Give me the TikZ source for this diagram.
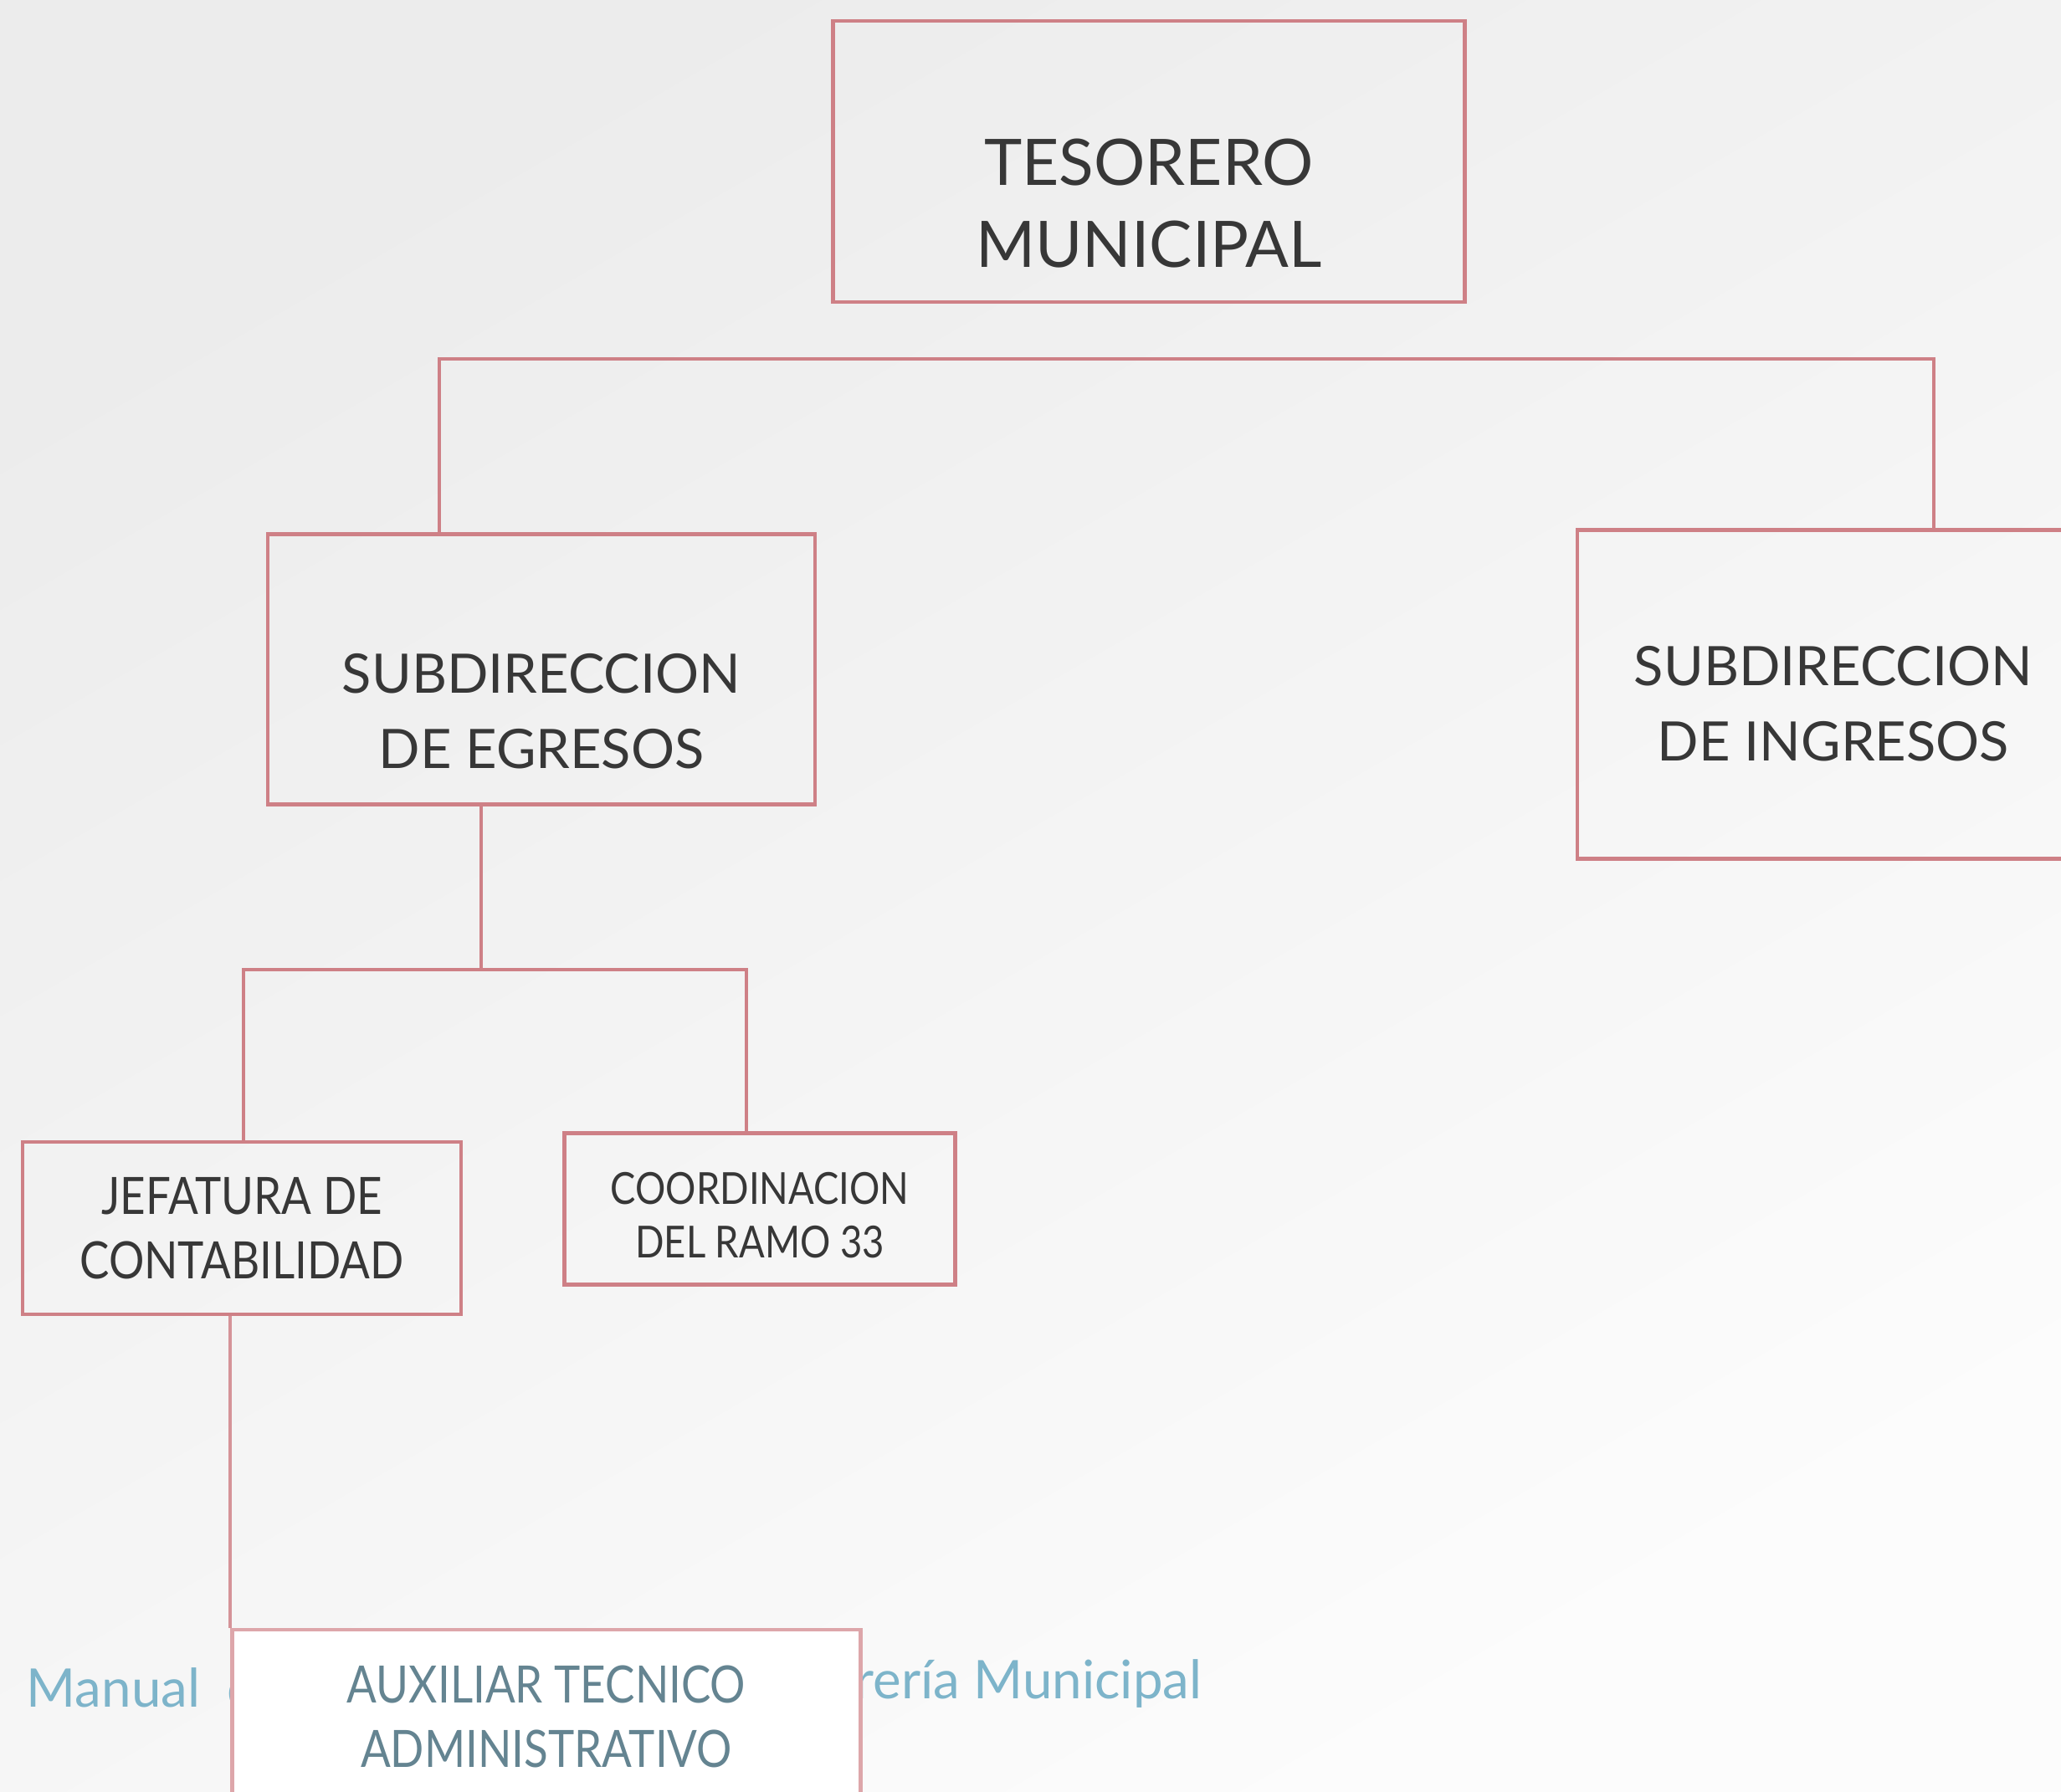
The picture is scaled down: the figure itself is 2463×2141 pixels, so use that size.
\documentclass[tikz,border=0pt]{standalone}
\usepackage{fontspec}
\setmainfont{Lato}
\newfontfamily\narrowfont[FakeStretch=0.86]{Lato}
\begin{document}
\begin{tikzpicture}[x=0.01cm,y=-0.01cm,
  boxstyle/.style={draw=boxred, line width=1.3pt, fill=none, inner sep=0pt},
  txtstyle/.style={inner sep=0pt, align=center, text=txtgray},
  linkstyle/.style={draw=boxred, line width=1.3pt},
  footstyle/.style={text=footblue, inner sep=0pt, anchor=base west, font=\fontsize{18.1}{20}\selectfont}]
\definecolor{boxred}{RGB}{206,128,134}
\definecolor{txtgray}{RGB}{55,55,55}
\definecolor{footblue}{RGB}{125,180,202}
\definecolor{auxtxt}{RGB}{100,132,145}
\definecolor{bgtop}{RGB}{236,236,236}
\definecolor{bgbot}{RGB}{252,252,252}
\clip (0,0) rectangle (2463,2141);
\shade[shading=axis, top color=bgtop, bottom color=bgbot, shading angle=30] (0,0) rectangle (2463,2141);

% boxes
\node[boxstyle, minimum width=7.55cm, minimum height=3.36cm] (tes) at (1373,193) {};
\node[boxstyle, minimum width=6.54cm, minimum height=3.23cm] (egr) at (647,800) {};
\node[boxstyle, minimum width=6.12cm, minimum height=3.93cm] (ing) at (2191,830) {};
\node[boxstyle, minimum width=5.24cm, minimum height=2.06cm] (jef) at (289,1468) {};
\node[boxstyle, minimum width=4.67cm, minimum height=1.81cm] (coo) at (908,1445) {};

% texts
\node[txtstyle, font=\fontsize{21.8}{27.6}\selectfont] (testxt) at ([yshift=-0.5cm]tes.center) {TESORERO\\MUNICIPAL};
\node[txtstyle, font=\fontsize{18.5}{25.6}\selectfont] (egrtxt) at ([yshift=-0.5cm]egr.center) {SUBDIRECCION\\DE EGRESOS};
\node[txtstyle, font=\fontsize{18.5}{25.6}\selectfont] (ingtxt) at ([yshift=-0.11cm]ing.center) {SUBDIRECCION\\DE INGRESOS};
\node[txtstyle, font=\narrowfont\fontsize{17.5}{21.9}\selectfont] (jeftxt) at (jef.center) {JEFATURA DE\\CONTABILIDAD};
\node[txtstyle, font=\narrowfont\fontsize{15}{18.2}\selectfont] (cootxt) at ([yshift=-0.08cm]coo.center) {COORDINACION\\DEL RAMO 33};

% footer text (partly hidden by the box below)
\node[footstyle] (fl) at (31,2040) {Manual\enspace d};
\node[footstyle, anchor=base east] (fr) at (1437,2030) {rería Municipal};

\node[boxstyle, draw=boxred!70, fill=white, minimum width=7.51cm, minimum height=2.08cm] (aux) at (653,2052) {};
\node[txtstyle, text=auxtxt, font=\narrowfont\fontsize{17.5}{21.9}\selectfont] (auxtxt) at (aux.center) {AUXILIAR TECNICO\\ADMINISTRATIVO};

% connectors
\coordinate (barL) at (525,429);
\coordinate (barR) at (2311,429);
\draw[linkstyle] (egr.north -| barL) -- (barL) -- (barR) -- (ing.north -| barR);
\coordinate (b2M) at (575,1159);
\coordinate (b2L) at (291,1159);
\coordinate (b2R) at (892,1159);
\draw[linkstyle] (egr.south -| b2M) -- (b2M);
\draw[linkstyle] (jef.north -| b2L) -- (b2L) -- (b2R) -- (coo.north -| b2R);
\draw[linkstyle, draw=boxred!85] (jef.south -| aux.north west) -- (aux.north west);
\end{tikzpicture}
\end{document}
